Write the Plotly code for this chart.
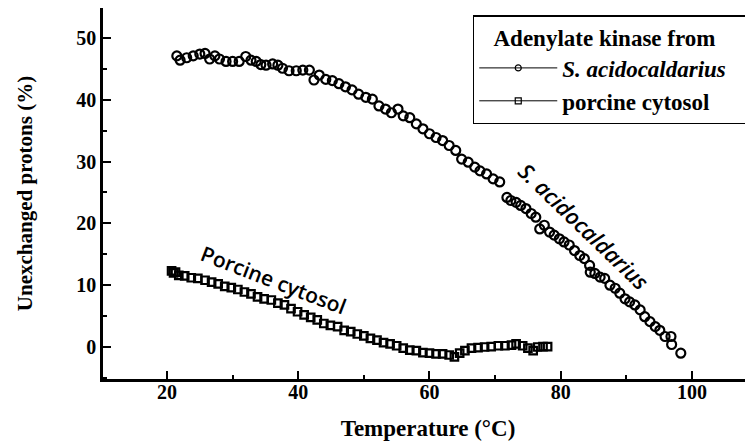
import plotly.graph_objects as go

# S. acidocaldarius (circles)
sa_temp = [21.5, 22, 23, 24, 25, 25.8, 26.5, 27.3, 28, 29, 30, 31, 32, 32.8, 33.6, 34.3,
           35.1, 36.1, 36.9, 37.6, 38.6, 39.7, 40.7, 41.7, 42.4, 43.2, 44.2, 45.2, 46.2,
           47.2, 48.2, 49.2, 50.3, 51.3, 52.3, 53.3, 54.2, 55.2, 56.0, 57.0, 58.0, 59.0,
           60.0, 61.0, 62.0, 63.0, 64.0, 64.9, 65.9, 66.9, 67.7, 68.7, 69.7, 70.7,
           71.8, 72.4, 73.2, 73.9, 74.7, 75.5, 76.2, 76.8, 77.5, 78.3, 79.0, 79.8, 80.5,
           81.3, 82.1, 82.9, 83.6, 84.4, 84.5, 85.2, 86.0, 86.7, 87.5, 88.3, 89.0, 89.8,
           90.5, 91.3, 92.1, 92.8, 93.6, 94.4, 95.1, 95.9, 96.8, 96.9, 98.3]
sa_vals = [47.1, 46.4, 46.8, 47.1, 47.4, 47.5, 46.6, 47.1, 46.6, 46.2, 46.2, 46.2, 47.0,
           46.4, 46.2, 45.7, 45.6, 45.8, 45.6, 45.1, 44.7, 44.7, 44.8, 44.8, 43.2, 44.0,
           43.3, 43.1, 42.6, 42.1, 41.6, 40.9, 40.4, 40.1, 39.0, 38.5, 37.9, 38.5, 37.4,
           37.1, 36.1, 35.3, 34.5, 33.9, 33.4, 32.6, 31.8, 30.4, 29.9, 29.1, 28.5, 28.0,
           27.2, 26.7, 24.2, 23.7, 23.4, 22.9, 22.4, 21.6, 21.0, 19.1, 19.7, 18.6, 18.1,
           17.5, 17.0, 16.5, 15.6, 14.8, 14.3, 13.2, 12.1, 11.9, 11.3, 11.1, 10.0, 9.5,
           8.7, 7.8, 7.3, 6.8, 6.0, 4.9, 4.1, 3.3, 2.7, 1.7, 1.7, 0.4, -1.0]

# Porcine cytosol (squares)
pc_temp = [20.7, 21.0, 21.3, 21.8, 22.7, 23.7, 24.7, 25.8, 26.8, 27.8, 28.8, 29.8, 30.8,
           31.8, 32.8, 33.8, 34.8, 35.9, 36.9, 37.9, 38.9, 39.9, 40.9, 41.9, 42.9, 43.9,
           44.9, 46.0, 47.0, 48.0, 49.0, 50.0, 51.0, 52.0, 53.0, 54.0, 55.0, 56.0, 57.0,
           58.0, 59.0, 60.0, 61.0, 62.0, 63.0, 63.8, 64.6, 65.4, 66.4, 67.4, 68.4, 69.4,
           70.5, 71.5, 72.5, 73.2, 74.2, 75.0, 75.8, 76.5, 77.3, 78.0]
pc_vals = [12.3, 12.0, 12.1, 11.6, 11.5, 11.2, 11.1, 10.8, 10.5, 10.2, 9.8, 9.6, 9.3, 8.9,
           8.6, 8.1, 7.8, 7.6, 7.1, 6.8, 6.2, 5.7, 5.2, 4.8, 4.4, 3.8, 3.5, 3.3, 2.7, 2.5,
           2.1, 1.8, 1.4, 1.1, 0.7, 0.5, 0.2, -0.2, -0.5, -0.6, -0.9, -1.0, -1.1, -1.1,
           -1.3, -1.6, -1.0, -0.6, -0.2, -0.1, 0.0, 0.05, 0.2, 0.2, 0.3, 0.5, 0.2, -0.2,
           -0.6, 0.0, 0.05, 0.05]

x_ticks = [20, 40, 60, 80, 100]
y_ticks = [0, 10, 20, 30, 40, 50]

serif = "Liberation Serif, Times New Roman, serif"

fig = go.Figure()
fig.add_trace(go.Scatter(x=sa_temp, y=sa_vals, mode="markers", showlegend=False,
                         marker=dict(symbol="circle-open", size=9, color="black",
                                     line=dict(width=2.2, color="black"))))
fig.add_trace(go.Scatter(x=pc_temp, y=pc_vals, mode="markers", showlegend=False,
                         marker=dict(symbol="square-open", size=7.5, color="black",
                                     line=dict(width=2.2, color="black"))))
# legend entries
fig.add_trace(go.Scatter(x=[None], y=[None], mode="lines+markers",
                         name="<b><i>S. acidocaldarius</i></b>&nbsp;&nbsp;&nbsp;",
                         line=dict(color="black", width=1),
                         marker=dict(symbol="circle-open", size=6, color="black",
                                     line=dict(width=1.2))))
fig.add_trace(go.Scatter(x=[None], y=[None], mode="lines+markers",
                         name="<b>porcine cytosol</b>",
                         line=dict(color="black", width=1),
                         marker=dict(symbol="square-open", size=6, color="black",
                                     line=dict(width=1.2))))

fig.add_annotation(x=36.3, y=10.9, text="Porcine cytosol", textangle=21, showarrow=False,
                   font=dict(family="Open Sans", size=21, color="black", weight=600))
fig.add_annotation(x=83.6, y=19.6, text="<i>S. acidocaldarius</i>", textangle=44,
                   showarrow=False,
                   font=dict(family="Open Sans", size=22, color="black", weight=600))

# the page body adds an 8px offset, so the figure is 8px smaller than the window
fig.update_layout(
    width=745, height=433,
    margin=dict(l=95, r=0, t=0, b=62),
    paper_bgcolor="white", plot_bgcolor="white",
    font=dict(family=serif, color="black"),
    legend=dict(
        title=dict(text="&nbsp;&nbsp;&nbsp;<b>Adenylate kinase from</b>",
                   font=dict(family=serif, size=23)),
        font=dict(family=serif, size=23, color="black"),
        x=0.995, y=0.981, xanchor="right", yanchor="top",
        bordercolor="black", borderwidth=1.5, bgcolor="white",
        itemwidth=78,
    ),
    xaxis=dict(
        range=[10.25, 109.3], tickvals=x_ticks, ticktext=[f"<b>{v}</b>" for v in x_ticks],
        ticks="inside", ticklen=8, tickwidth=2, tickcolor="black",
        minor=dict(ticks="inside", ticklen=4, tickwidth=1.5, tickcolor="black", dtick=10,
                   tick0=0),
        showline=True, linewidth=2.5, linecolor="black", mirror=True,
        showgrid=False, zeroline=False, automargin=False,
        tickfont=dict(family=serif, size=20, color="black"),
        ticklabelstandoff=-7,
        title=dict(text="<b>Temperature (°C)</b>", font=dict(family=serif, size=23),
                   standoff=19),
    ),
    yaxis=dict(
        range=[-5.18, 54.85], tickvals=y_ticks, ticktext=[f"<b>{v}</b>" for v in y_ticks],
        ticks="inside", ticklen=8, tickwidth=2, tickcolor="black",
        minor=dict(ticks="inside", ticklen=4, tickwidth=1.5, tickcolor="black", dtick=5,
                   tick0=0),
        showline=True, linewidth=2.5, linecolor="black", mirror=False,
        showgrid=False, zeroline=False, automargin=False,
        tickfont=dict(family=serif, size=20, color="black"),
        title=dict(text="<b>Unexchanged protons (%)</b>", font=dict(family=serif, size=21),
                   standoff=38),
    ),
)

fig.write_html("out.html")
